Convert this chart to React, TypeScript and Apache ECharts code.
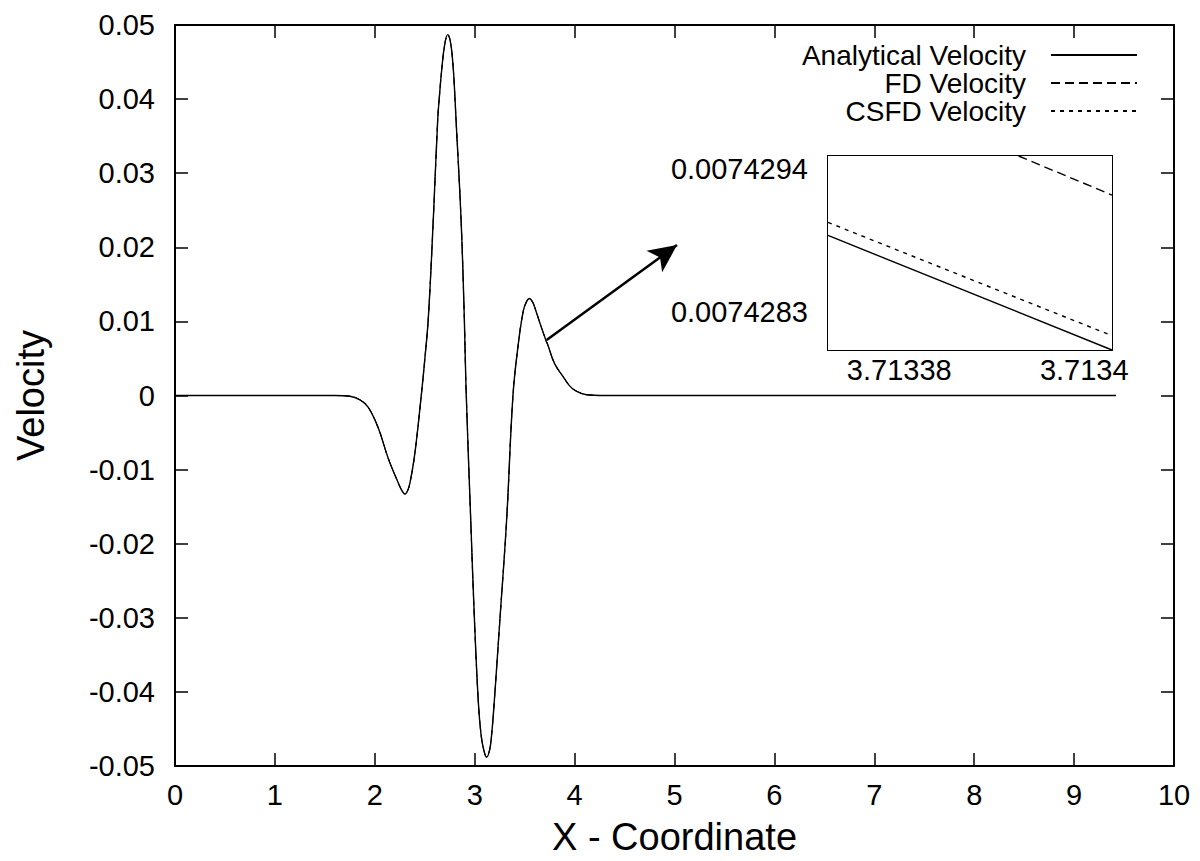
import React, { useEffect, useRef } from "react";
import * as echarts from "echarts";

// ---- Main plot data ----
const xCoordinates = [
  0, 1.0, 1.6, 1.75, 1.852, 1.935, 2.035, 2.135, 2.235, 2.27, 2.302, 2.33,
  2.352, 2.392, 2.425, 2.452, 2.475, 2.5, 2.536, 2.586, 2.63, 2.65, 2.67, 2.7,
  2.73, 2.76, 2.786, 2.8, 2.813, 2.863, 2.896, 2.913, 2.96, 2.997, 3.036,
  3.063, 3.09, 3.12, 3.15, 3.17, 3.196, 3.253, 3.32, 3.383, 3.436, 3.486,
  3.52, 3.547, 3.58, 3.613, 3.66, 3.7134, 3.73, 3.8, 3.887, 3.95, 4.004, 4.12,
  4.3, 9.42,
];
const analyticalVelocity = [
  0, 0, 0, -0.0001, -0.0006, -0.0016, -0.0044, -0.0085, -0.0118, -0.0128,
  -0.0133, -0.0128, -0.0118, -0.0087, -0.0051, -0.0017, 0.0013, 0.0048,
  0.0105, 0.0239, 0.0373, 0.0409, 0.044, 0.0474, 0.0487, 0.0475, 0.044,
  0.0408, 0.0373, 0.0239, 0.0105, 0.0011, -0.0167, -0.0301, -0.0413, -0.0457,
  -0.0478, -0.0488, -0.0478, -0.0457, -0.0413, -0.0301, -0.0167, 0.0, 0.0069,
  0.0114, 0.0127, 0.0131, 0.0126, 0.0114, 0.0095, 0.00743, 0.0069, 0.0043,
  0.0025, 0.0013, 0.0007, 0.0001, 0, 0,
];
const fdVelocity = analyticalVelocity;
const csfdVelocity = analyticalVelocity;

// ---- Inset (zoomed) data ----
const insetAnalyticalX = [3.7133723, 3.713403];
const insetAnalyticalY = [0.00742889, 0.00742801];
const insetFdX = [3.7133929, 3.713403];
const insetFdY = [0.0074295, 0.0074292];
const insetCsfdX = [3.7133723, 3.713403];
const insetCsfdY = [0.00742899, 0.00742812];

const insetXTicks = [3.71338, 3.7134];
const insetYTicks = [0.0074283, 0.0074294];

// Arrow (data coordinates on main axes)
const arrowStart = [3.72, 0.0075];
const arrowEnd = [5.025, 0.0203];

const seriesNames = ["Analytical Velocity", "FD Velocity", "CSFD Velocity"];
const FONT = "'Liberation Sans', Arial, Helvetica, sans-serif";

const zip = (xs: number[], ys: number[]) => xs.map((x, i) => [x, ys[i]]);

export default function App() {
  const ref = useRef<HTMLDivElement>(null);
  useEffect(() => {
    if (!ref.current) return;
    const chart = echarts.init(ref.current, undefined, { renderer: "svg" });
    const axisLine = { show: true, onZero: false, lineStyle: { color: "#000", width: 2 } };
    const tick = { show: true, inside: true, length: 13, lineStyle: { color: "#000", width: 1.5 } };
    const labelStyle = { color: "#000", fontSize: 29, fontFamily: FONT };
    const lineW = 1.4;
    const dashFD = [9, 5];
    const dashCS = [4, 5];
    const smooth = 0.4;

    const option: any = {
      animation: false,
      backgroundColor: "#fff",
      textStyle: { fontFamily: FONT },
      grid: [
        { left: 175, top: 25, width: 999, height: 747, show: false },
        {
          left: 828, top: 156, width: 284, height: 194, show: true,
          backgroundColor: "#fff", borderWidth: 0, z: 5,
        },
      ],
      legend: {
        orient: "vertical",
        align: "right",
        right: 62,
        top: 41,
        padding: 0,
        itemWidth: 86,
        itemHeight: 14,
        itemGap: 0,
        data: seriesNames,
        itemStyle: { opacity: 0 },
        textStyle: { color: "#000", fontSize: 28, fontFamily: FONT, padding: [0, 20, 0, 0] },
      },
      xAxis: [
        {
          type: "value", gridIndex: 0, position: "bottom", min: 0, max: 10, interval: 1,
          axisLine, axisTick: tick, splitLine: { show: false },
          axisLabel: { ...labelStyle, margin: 14 },
          name: "X - Coordinate", nameLocation: "middle", nameGap: 52,
          nameTextStyle: { color: "#000", fontSize: 38, fontFamily: FONT },
        },
        {
          type: "value", gridIndex: 0, position: "top", min: 0, max: 10, interval: 1,
          axisLine, axisTick: tick, splitLine: { show: false }, axisLabel: { show: false },
        },
        {
          type: "value", gridIndex: 1, position: "bottom", min: 3.7133723, max: 3.713403,
          axisLine, splitLine: { show: false },
          axisTick: { ...tick, customValues: insetXTicks },
          axisLabel: {
            ...labelStyle, margin: 5, customValues: insetXTicks,
            formatter: (v: number) => String(parseFloat(v.toFixed(5))),
          },
        },
        {
          type: "value", gridIndex: 1, position: "top", min: 3.7133723, max: 3.713403,
          axisLine, splitLine: { show: false },
          axisTick: { ...tick, customValues: insetXTicks },
          axisLabel: { show: false, customValues: insetXTicks },
        },
      ],
      yAxis: [
        {
          type: "value", gridIndex: 0, position: "left", min: -0.05, max: 0.05, interval: 0.01,
          axisLine, axisTick: tick, splitLine: { show: false },
          axisLabel: { ...labelStyle, margin: 20, formatter: (v: number) => String(parseFloat(v.toFixed(4))) },
          name: "Velocity", nameLocation: "middle", nameGap: 125, nameRotate: 90,
          nameTextStyle: { color: "#000", fontSize: 38, fontFamily: FONT },
        },
        {
          type: "value", gridIndex: 0, position: "right", min: -0.05, max: 0.05, interval: 0.01,
          axisLine, axisTick: tick, splitLine: { show: false }, axisLabel: { show: false },
        },
        {
          type: "value", gridIndex: 1, position: "left", min: 0.00742801, max: 0.0074295,
          axisLine, splitLine: { show: false },
          axisTick: { ...tick, customValues: insetYTicks },
          axisLabel: {
            ...labelStyle, margin: 20, customValues: insetYTicks,
            formatter: (v: number) => v.toFixed(7),
          },
        },
        {
          type: "value", gridIndex: 1, position: "right", min: 0.00742801, max: 0.0074295,
          axisLine, splitLine: { show: false },
          axisTick: { ...tick, customValues: insetYTicks },
          axisLabel: { show: false, customValues: insetYTicks },
        },
      ],
      series: [
        {
          name: seriesNames[0], type: "line", xAxisIndex: 0, yAxisIndex: 0, z: 4,
          data: zip(xCoordinates, analyticalVelocity), symbol: "none",
          smooth,
          lineStyle: { color: "#000", width: lineW, type: "solid" },
          itemStyle: { color: "#000" },
          markLine: {
            silent: true, symbol: ["none", "arrow"], symbolSize: [20, 28],
            label: { show: false },
            lineStyle: { color: "#000", width: 2.5, type: "solid" },
            data: [[{ coord: arrowStart }, { coord: arrowEnd }]],
          },
        },
        {
          name: seriesNames[1], type: "line", xAxisIndex: 0, yAxisIndex: 0, z: 2,
          data: zip(xCoordinates, fdVelocity), symbol: "none",
          smooth,
          lineStyle: { color: "#000", width: 1.0, type: dashFD },
          itemStyle: { color: "#000" },
        },
        {
          name: seriesNames[2], type: "line", xAxisIndex: 0, yAxisIndex: 0, z: 2,
          data: zip(xCoordinates, csfdVelocity), symbol: "none",
          smooth,
          lineStyle: { color: "#000", width: 1.0, type: dashCS },
          itemStyle: { color: "#000" },
        },
        {
          name: seriesNames[0], type: "line", xAxisIndex: 2, yAxisIndex: 2, z: 6,
          data: zip(insetAnalyticalX, insetAnalyticalY), symbol: "none", clip: true,
          lineStyle: { color: "#000", width: lineW, type: "solid" },
        },
        {
          name: seriesNames[1], type: "line", xAxisIndex: 2, yAxisIndex: 2, z: 6,
          data: zip(insetFdX, insetFdY), symbol: "none", clip: true,
          lineStyle: { color: "#000", width: lineW, type: dashFD },
        },
        {
          name: seriesNames[2], type: "line", xAxisIndex: 2, yAxisIndex: 2, z: 6,
          data: zip(insetCsfdX, insetCsfdY), symbol: "none", clip: true,
          lineStyle: { color: "#000", width: lineW, type: dashCS },
        },
      ],
    };
    chart.setOption(option);
    return () => chart.dispose();
  }, []);
  return <div ref={ref} style={{ width: 1200, height: 861, position: "absolute", left: 0, top: 0 }} />;
}
